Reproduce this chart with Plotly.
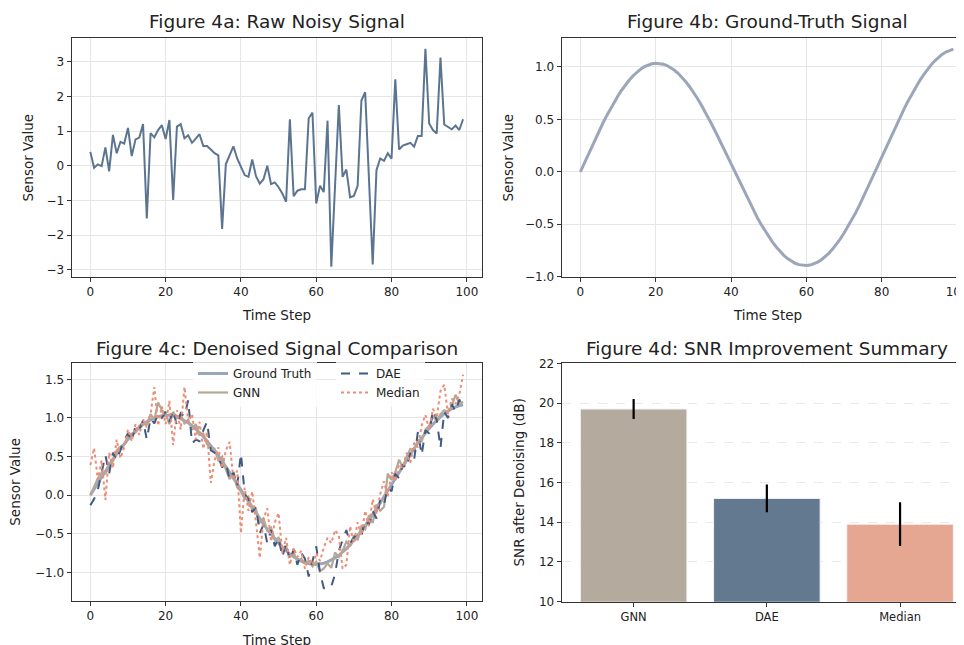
import plotly.graph_objects as go

# ---------------- data ----------------
time_steps = list(range(100))

raw_signal = [0.40, -0.06, 0.04, -0.01, 0.53, -0.16, 0.89, 0.36, 0.69, 0.64,
              1.09, 0.28, 0.76, 0.81, 1.20, -1.52, 0.94, 0.82, 1.03, 1.17,
              0.77, 1.32, -0.99, 1.13, 1.20, 0.79, 0.88, 0.66, 0.78, 0.91,
              0.57, 0.57, 0.47, 0.36, 0.30, -1.82, 0.05, 0.30, 0.56, 0.21,
              -0.01, -0.27, -0.32, 0.18, -0.30, -0.52, -0.39, 0.00, -0.53, -0.48,
              -0.62, -0.80, -1.04, 1.34, -0.88, -0.72, -0.68, -0.68, 1.37, 1.53,
              -1.09, -0.58, -0.76, 1.30, -2.91, -0.55, 1.75, -0.32, -0.11, -0.91,
              -0.87, -0.58, 1.88, 2.12, -0.35, -2.85, -0.13, 0.21, 0.14, 0.36,
              0.20, 2.49, 0.47, 0.58, 0.62, 0.66, 0.55, 0.86, 0.86, 3.37,
              1.22, 1.03, 0.93, 3.12, 1.19, 1.13, 1.05, 1.16, 1.03, 1.34]

ground_truth = [0.000, 0.080, 0.160, 0.239, 0.316, 0.391, 0.465, 0.535, 0.602, 0.665,
                0.725, 0.780, 0.830, 0.875, 0.916, 0.950, 0.979, 1.002, 1.019, 1.030,
                1.035, 1.034, 1.026, 1.013, 0.993, 0.968, 0.937, 0.900, 0.858, 0.811,
                0.760, 0.704, 0.644, 0.580, 0.514, 0.444, 0.372, 0.298, 0.223, 0.147,
                0.070, -0.007, -0.083, -0.158, -0.232, -0.304, -0.374, -0.440, -0.504, -0.564,
                -0.620, -0.671, -0.718, -0.760, -0.797, -0.828, -0.853, -0.873, -0.886, -0.894,
                -0.895, -0.890, -0.879, -0.862, -0.839, -0.810, -0.776, -0.735, -0.690, -0.640,
                -0.585, -0.525, -0.462, -0.395, -0.325, -0.251, -0.176, -0.099, -0.020, 0.060,
                0.140, 0.220, 0.300, 0.379, 0.456, 0.531, 0.605, 0.675, 0.742, 0.805,
                0.865, 0.920, 0.970, 1.015, 1.056, 1.090, 1.119, 1.142, 1.159, 1.170]

gnn_denoised = [0.00, 0.10, 0.22, 0.29, 0.28, 0.36, 0.44, 0.58, 0.63, 0.66,
                0.76, 0.80, 0.81, 0.90, 0.93, 0.92, 1.05, 0.98, 1.20, 1.10,
                1.06, 0.92, 1.08, 1.00, 1.04, 0.93, 0.98, 0.85, 0.92, 0.78,
                0.80, 0.66, 0.62, 0.60, 0.45, 0.50, 0.33, 0.21, 0.28, 0.10,
                0.05, -0.05, -0.02, -0.20, -0.18, -0.35, -0.30, -0.46, -0.42, -0.58,
                -0.55, -0.70, -0.66, -0.80, -0.74, -0.86, -0.82, -0.88, -0.85, -0.92,
                -0.86, -0.98, -0.95, -0.88, -0.94, -0.74, -0.80, -0.72, -0.60, -0.66,
                -0.52, -0.58, -0.40, -0.44, -0.26, -0.36, -0.12, -0.20, -0.15, 0.28,
                0.20, 0.30, 0.46, 0.36, 0.50, 0.60, 0.58, 0.72, 0.70, 0.85,
                0.90, 1.02, 0.96, 1.05, 1.10, 1.08, 1.15, 1.30, 1.18, 1.21]

dae_denoised = [-0.13, -0.05, 0.07, 0.30, 0.52, 0.28, 0.55, 0.45, 0.59, 0.72,
                0.80, 0.70, 0.90, 0.85, 0.97, 0.72, 1.00, 0.93, 1.05, 1.00,
                1.08, 0.95, 1.10, 0.90, 1.06, 1.02, 1.23, 0.67, 0.72, 0.70,
                0.84, 0.95, 0.58, 0.55, 0.50, 0.36, 0.42, 0.20, 0.30, 0.12,
                0.54, 0.02, -0.05, -0.22, -0.15, -0.49, -0.38, -0.62, -0.45, -0.66,
                -0.55, -0.80, -0.62, -0.85, -0.70, -0.90, -0.74, -0.82, -1.05, -0.86,
                -0.66, -1.00, -1.20, -1.22, -1.18, -1.02, -0.72, -0.58, -0.45, -0.62,
                -0.55, -0.48, -0.52, -0.32, -0.38, -0.20, -0.30, -0.05, -0.12, 0.10,
                0.05, 0.28, 0.22, 0.40, 0.35, 0.55, 0.46, 0.82, 0.52, 0.84,
                0.80, 1.10, 0.98, 0.61, 1.08, 1.00, 1.18, 1.08, 1.24, 1.12]

median_denoised = [0.39, 0.61, 0.20, 0.45, -0.06, 0.55, 0.35, 0.72, 0.48, 0.62,
                   0.85, 0.70, 0.92, 0.78, 0.98, 0.88, 1.05, 1.40, 0.90, 1.15,
                   0.92, 1.22, 0.65, 1.10, 0.85, 1.40, 0.95, 1.05, 0.72, 0.95,
                   0.60, 0.82, 0.16, 0.45, 0.62, 0.35, 0.58, 0.69, 0.20, 0.32,
                   -0.49, 0.10, -0.20, 0.05, -0.35, -0.81, -0.30, -0.17, -0.60, -0.35,
                   -0.23, -0.75, -0.55, -0.90, -0.68, -0.80, -0.72, -0.95, -0.80, -0.90,
                   -0.75, -0.85, -0.68, -0.55, -0.62, -0.45, -0.52, -0.95, -0.90, -0.40,
                   -0.62, -0.35, -0.52, -0.20, -0.40, -0.05, -0.25, 0.02, 0.18, -0.02,
                   0.30, 0.18, 0.40, 0.35, 0.55, 0.42, 0.68, 0.62, 0.90, 1.04,
                   0.85, 1.12, 1.00, 1.35, 1.43, 1.05, 1.25, 1.18, 1.30, 1.56]

methods = ["GNN", "DAE", "Median"]
snr_values = [19.7, 15.2, 13.9]
snr_errors = [0.5, 0.7, 1.1]

# ---------------- styling ----------------
W, H = 964, 645
OFF = 8  # page body margin compensation
FONT = "DejaVu Sans"
TXT = "#222222"
GRID = "#e6e6e6"
SPINE = "#333333"

C_RAW = "#5b7591"
C_GT = "#9ba6bb"
C_GNN = "#b4a899"
C_DAE = "#3f5b80"
C_MED = "#ec8d76"
BAR_COLORS = ["#b4aa9e", "#62798f", "#e5a692"]


def px_x(p):
    return (p - OFF) / W


def px_y(p):
    return 1 - (p - OFF) / H


fig = go.Figure()

# Panel a
fig.add_trace(go.Scatter(x=time_steps, y=raw_signal, mode="lines",
                         line=dict(color=C_RAW, width=2), showlegend=False,
                         xaxis="x", yaxis="y"))
# Panel b
fig.add_trace(go.Scatter(x=time_steps, y=ground_truth, mode="lines",
                         line=dict(color=C_GT, width=3), showlegend=False,
                         xaxis="x2", yaxis="y2"))
# Panel c
fig.add_trace(go.Scatter(x=time_steps, y=ground_truth, mode="lines", name="Ground Truth",
                         line=dict(color=C_GT, width=3), xaxis="x3", yaxis="y3",
                         legend="legend"))
fig.add_trace(go.Scatter(x=time_steps, y=gnn_denoised, mode="lines", name="GNN",
                         line=dict(color=C_GNN, width=2.2), xaxis="x3", yaxis="y3",
                         legend="legend"))
fig.add_trace(go.Scatter(x=time_steps, y=dae_denoised, mode="lines", name="DAE",
                         line=dict(color=C_DAE, width=2, dash="dash"), xaxis="x3", yaxis="y3",
                         legend="legend2"))
fig.add_trace(go.Scatter(x=time_steps, y=median_denoised, mode="lines", name="Median",
                         line=dict(color=C_MED, width=2, dash="dot"), xaxis="x3", yaxis="y3",
                         legend="legend2"))
# Panel d
fig.add_trace(go.Bar(x=methods, y=snr_values,
                     marker=dict(color=BAR_COLORS, line=dict(color="#f4f4f4", width=1)),
                     width=0.8,
                     error_y=dict(type="data", array=snr_errors, color="black",
                                  thickness=2.2, width=0),
                     showlegend=False, xaxis="x4", yaxis="y4"))

common_axis = dict(showline=True, linecolor=SPINE, linewidth=1.2,
                   ticks="outside", ticklen=4, tickwidth=1, tickcolor=SPINE,
                   tickfont=dict(family=FONT, size=12, color=TXT),
                   zeroline=False, showgrid=True, gridcolor=GRID, gridwidth=1,
                   automargin=False)

xa_dom = [px_x(71.7), px_x(481.7)]
xb_dom = [px_x(561.7), 1.0]
top_dom = [px_y(276.7), px_y(38.3)]
bot_dom = [px_y(600.7), px_y(362.7)]
botd_dom = [px_y(601.7), px_y(363.3)]

fig.update_layout(
    template="none",
    width=W, height=H,
    margin=dict(l=0, r=0, t=0, b=0, pad=0, autoexpand=False),
    paper_bgcolor="white", plot_bgcolor="white",
    font=dict(family=FONT, color=TXT),
    xaxis=dict(common_axis, domain=xa_dom, anchor="y", range=[-4.95, 103.95],
               tick0=0, dtick=20, mirror=True),
    yaxis=dict(common_axis, domain=top_dom, anchor="x", range=[-3.20, 3.675],
               tick0=0, dtick=1, mirror=True),
    xaxis2=dict(common_axis, domain=xb_dom, anchor="y2", range=[-4.95, 103.95],
                tick0=0, dtick=20, mirror=True),
    yaxis2=dict(common_axis, domain=top_dom, anchor="x2", range=[-1.001, 1.273],
                tick0=0, dtick=0.5, tickformat=".1f", mirror=True),
    xaxis3=dict(common_axis, domain=xa_dom, anchor="y3", range=[-4.95, 103.95],
                tick0=0, dtick=20, mirror=True),
    yaxis3=dict(common_axis, domain=bot_dom, anchor="x3", range=[-1.364, 1.715],
                tick0=0, dtick=0.5, tickformat=".1f", mirror=True),
    xaxis4=dict(common_axis, domain=xb_dom, anchor="y4", range=[-0.54, 2.54],
                showgrid=False, mirror=True, type="category",
                tickfont=dict(family=FONT, size=11.5, color=TXT)),
    yaxis4=dict(common_axis, domain=botd_dom, anchor="x4", range=[10, 22],
                tick0=10, dtick=2, griddash="dash", gridcolor="#e9e9e9", mirror=True),
    legend=dict(x=px_x(193), y=px_y(359), xanchor="left", yanchor="top",
                bgcolor="rgba(255,255,255,0.8)", borderwidth=0,
                font=dict(family=FONT, size=12, color=TXT),
                itemwidth=30, tracegroupgap=0),
    legend2=dict(x=px_x(336), y=px_y(359), xanchor="left", yanchor="top",
                 bgcolor="rgba(255,255,255,0.8)", borderwidth=0,
                 font=dict(family=FONT, size=12, color=TXT),
                 itemwidth=30, tracegroupgap=0),
    bargap=0.2,
)

annotations = []


def add_text(text, x, y, size, angle=0):
    annotations.append(dict(text=text, x=px_x(x), y=px_y(y), xref="paper", yref="paper",
                            xanchor="center", yanchor="middle", showarrow=False,
                            textangle=angle, font=dict(family=FONT, size=size, color=TXT)))


# Titles
add_text("Figure 4a: Raw Noisy Signal", 276.7, 22, 18.5)
add_text("Figure 4b: Ground-Truth Signal", 767, 22, 18.5)
add_text("Figure 4c: Denoised Signal Comparison", 276.7, 348, 18.5)
add_text("Figure 4d: SNR Improvement Summary", 767, 348, 18.5)
# Axis labels
add_text("Time Step", 276.7, 315, 13.5)
add_text("Time Step", 767, 315, 13.5)
add_text("Time Step", 276.7, 640, 13.5)
add_text("Sensor Value", 27, 157.5, 13.5, -90)
add_text("Sensor Value", 507, 157.5, 13.5, -90)
add_text("Sensor Value", 15, 481.7, 13.5, -90)
add_text("SNR after Denoising (dB)", 518, 482.5, 13.5, -90)

fig.update_layout(annotations=annotations)

fig.write_html("out.html")
